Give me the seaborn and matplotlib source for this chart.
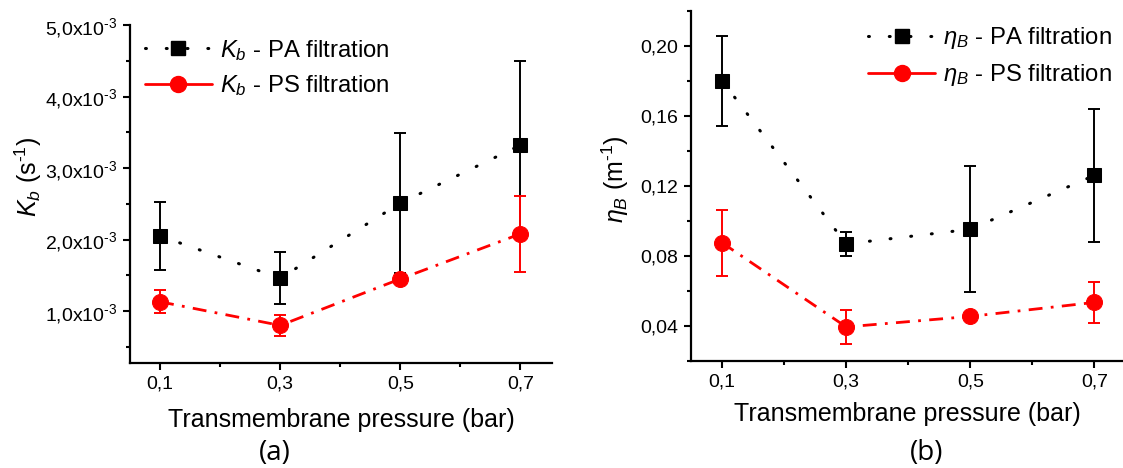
import numpy as np
import matplotlib
matplotlib.use("Agg")
import matplotlib.pyplot as plt
from matplotlib.lines import Line2D
import seaborn as sns

# Transmembrane pressure (bar)
pressure = [0.1, 0.3, 0.5, 0.7]

# Panel (a): K_b (s^-1)
kb_pa = [2.05e-3, 1.46e-3, 2.51e-3, 3.32e-3]
kb_pa_err = [0.47e-3, 0.36e-3, 0.98e-3, 1.18e-3]
kb_ps = [1.13e-3, 0.80e-3, 1.45e-3, 2.08e-3]
kb_ps_err = [0.16e-3, 0.15e-3, 0.0, 0.53e-3]

# Panel (b): eta_B (m^-1)
eta_pa = [0.180, 0.0867, 0.0951, 0.1259]
eta_pa_err = [0.0257, 0.0066, 0.0360, 0.0381]
eta_ps = [0.0874, 0.0393, 0.0453, 0.0533]
eta_ps_err = [0.0189, 0.0095, 0.0, 0.0115]

x_ticks = [0.1, 0.3, 0.5, 0.7]
x_tick_labels = ["0,1", "0,3", "0,5", "0,7"]
kb_ticks = [1e-3, 2e-3, 3e-3, 4e-3, 5e-3]
kb_tick_labels = ["1,0x10$^{\\text{-}3}$", "2,0x10$^{\\text{-}3}$",
                  "3,0x10$^{\\text{-}3}$", "4,0x10$^{\\text{-}3}$",
                  "5,0x10$^{\\text{-}3}$"]
eta_ticks = [0.04, 0.08, 0.12, 0.16, 0.20]
eta_tick_labels = ["0,04", "0,08", "0,12", "0,16", "0,20"]

sns.set_theme(style="ticks")
plt.rcParams["font.family"] = ["Liberation Sans", "DejaVu Sans"]
plt.rcParams["mathtext.fontset"] = "custom"
plt.rcParams["mathtext.rm"] = "Liberation Sans"
plt.rcParams["mathtext.it"] = "Liberation Sans:italic"
plt.rcParams["mathtext.bf"] = "Liberation Sans:bold"
for key in ("text.color", "axes.labelcolor", "xtick.color", "ytick.color",
            "axes.edgecolor"):
    plt.rcParams[key] = "black"

TICK_FS = 14
LABEL_FS = 18
LEGEND_FS = 17.2

RED = "#ff0000"
fig = plt.figure(figsize=(11.23, 4.68), dpi=100)
ax_a = fig.add_axes([0.1158, 0.2237, 0.3755, 0.7229])
ax_b = fig.add_axes([0.6153, 0.2293, 0.3847, 0.7479])

PA_STYLE = dict(color="black", linestyle=(0, (0.3, 6.5)), linewidth=2.2,
                dash_capstyle="round", marker="s", markersize=10,
                markeredgecolor="black", markerfacecolor="black")
PS_STYLE = dict(color=RED, linestyle=(0, (5, 3, 1, 3)), linewidth=2.0,
                marker="o", markersize=11.5,
                markeredgecolor=RED, markerfacecolor=RED)


def draw_panel(ax, pa, pa_err, ps, ps_err, sym):
    ax.errorbar(pressure, pa, yerr=pa_err, fmt="none", ecolor="black",
                elinewidth=1.4, capsize=4, capthick=1.4, zorder=2)
    sns.lineplot(x=pressure, y=pa, ax=ax, zorder=3, **PA_STYLE)
    ax.errorbar(pressure, ps, yerr=ps_err, fmt="none", ecolor=RED,
                elinewidth=1.4, capsize=4, capthick=1.4, zorder=4)
    sns.lineplot(x=pressure, y=ps, ax=ax, zorder=5, **PS_STYLE)

    ax.set_xlim(0.05, 0.752)
    ax.set_xticks(x_ticks, x_tick_labels)
    ax.set_xticks([0.2, 0.4, 0.6], minor=True)
    for side in ("top", "right"):
        ax.spines[side].set_visible(False)
    for side in ("left", "bottom"):
        ax.spines[side].set_linewidth(1.6)
        ax.spines[side].set_color("black")
    ax.tick_params(axis="both", which="major", direction="out", length=5,
                   width=1.5, labelsize=TICK_FS, colors="black", pad=4)
    ax.tick_params(axis="both", which="minor", direction="out", length=3,
                   width=1.5, colors="black")
    ax.set_xlabel("Transmembrane pressure (bar)", fontsize=LABEL_FS)
    ax.xaxis.label.set_va("center")

    # legend keys: dotted key with square, solid key with circle
    handles = [
        Line2D([], [], color="black", linestyle=(0, (0.3, 6.5)), linewidth=2.2,
               dash_capstyle="round", marker="s", markersize=10),
        Line2D([], [], color=RED, linestyle="-", linewidth=2.0,
               marker="o", markersize=11.5),
    ]
    labels = [f"{sym} - PA filtration", f"{sym} - PS filtration"]
    return handles, labels


h, l = draw_panel(ax_a, kb_pa, kb_pa_err, kb_ps, kb_ps_err, "$K_b$")
ax_a.set_ylim(0.27e-3, 5.0e-3)
ax_a.set_yticks(kb_ticks, kb_tick_labels)
ax_a.set_yticks([0.5e-3, 1.5e-3, 2.5e-3, 3.5e-3, 4.5e-3], minor=True)
ax_a.set_ylabel("$K_b$ (s$^{\\text{-}1}$)", fontsize=LABEL_FS)
ax_a.yaxis.set_label_coords(-0.205, 0.55)
ax_a.xaxis.set_label_coords(0.5, -0.168)
ax_a.legend(h, l, loc="upper left", bbox_to_anchor=(0.035, 0.962),
            frameon=False, fontsize=LEGEND_FS, handlelength=2.8,
            handletextpad=0.35, borderpad=0, borderaxespad=0,
            labelspacing=0.45)

h, l = draw_panel(ax_b, eta_pa, eta_pa_err, eta_ps, eta_ps_err, r"$\eta_B$")
ax_b.set_xlim(0.05, 0.746)
ax_b.set_ylim(0.02, 0.22)
ax_b.set_yticks(eta_ticks, eta_tick_labels)
ax_b.set_yticks([0.02, 0.06, 0.10, 0.14, 0.18, 0.22], minor=True)
ax_b.set_ylabel(r"$\eta_B$ (m$^{\text{-}1}$)", fontsize=LABEL_FS)
ax_b.yaxis.set_label_coords(-0.139, 0.52)
ax_b.xaxis.set_label_coords(0.502, -0.152)
ax_b.legend(h, l, loc="upper left", bbox_to_anchor=(0.41, 0.958),
            frameon=False, fontsize=LEGEND_FS, handlelength=2.8,
            handletextpad=0.35, borderpad=0, borderaxespad=0,
            labelspacing=0.45)

fig.text(274.6 / 1123, 1 - 453 / 468, "(a)", fontsize=20, family="Open Sans",
         ha="center", va="center")
fig.text(927 / 1123, 1 - 453 / 468, "(b)", fontsize=20, family="Open Sans",
         ha="center", va="center")

fig.savefig("out.png", dpi=100, facecolor="white")
